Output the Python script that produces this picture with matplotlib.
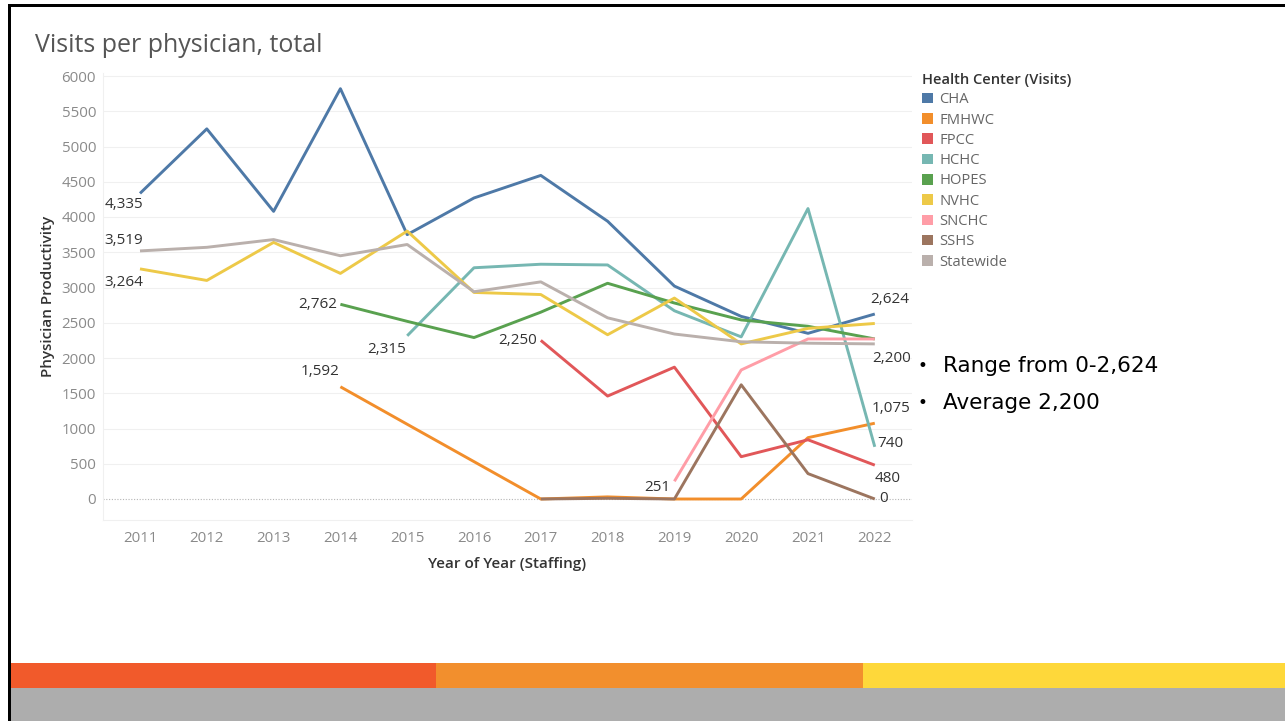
import matplotlib
matplotlib.use("Agg")
import matplotlib.pyplot as plt
from matplotlib.patches import Rectangle, Patch
import numpy as np

W, H = 1285, 721
years = list(range(2011, 2023))

centers = ["CHA", "FMHWC", "FPCC", "HCHC", "HOPES", "NVHC", "SNCHC", "SSHS", "Statewide"]
colors = ["#4e79a7", "#f28e2b", "#e15759", "#76b7b2", "#59a14f", "#edc948", "#ff9da7", "#9c755f", "#bab0ac"]

# values by year (None = no data)
cha = [4335, 5250, 4080, 5820, 3750, 4270, 4590, 3940, 3020, 2590, 2350, 2624]
fmhwc = [None, None, None, 1592, 1060, 530, 0, 30, 0, 0, 870, 1075]
fpcc = [None, None, None, None, None, None, 2250, 1460, 1870, 600, 840, 480]
hchc = [None, None, None, None, 2315, 3280, 3330, 3320, 2670, 2300, 4120, 740]
hopes = [None, None, None, 2762, 2520, 2290, 2650, 3060, 2780, 2540, 2450, 2270]
nvhc = [3264, 3100, 3640, 3200, 3800, 2930, 2900, 2330, 2850, 2200, 2420, 2490]
snchc = [None, None, None, None, None, None, None, None, 251, 1830, 2270, 2270]
sshs = [None, None, None, None, None, None, 0, 10, 0, 1620, 360, 0]
statewide = [3519, 3570, 3680, 3450, 3610, 2940, 3080, 2570, 2340, 2230, 2210, 2200]

series = [cha, fmhwc, fpcc, hchc, hopes, nvhc, snchc, sshs, statewide]

yticks = list(range(0, 6001, 500))
title = "Visits per physician, total"
xlabel = "Year of Year (Staffing)"
ylabel = "Physician Productivity"
legend_title = "Health Center (Visits)"
bullets = ["Range from 0-2,624", "Average 2,200"]

plt.rcParams['font.family'] = ['Open Sans', 'DejaVu Sans']

fig = plt.figure(figsize=(W / 100, H / 100), dpi=100)

def fx(px):
    return px / W

def fy(py):
    return 1 - py / H

# axes placement (pixels)
L, R, T, B = 103, 912, 73, 520
ax = fig.add_axes([fx(L), fy(B), fx(R) - fx(L), fy(T) - fy(B)])

# scale: 2011 at x=140, 66.8 px/year ; 0 at y=499, 6000 at y=76
pxyear = 66.8
ax.set_xlim(2011 - (140 - L) / pxyear, 2011 + (R - 140) / pxyear)
ppu = (499 - 76) / 6000.0
ax.set_ylim(-(B - 499) / ppu, 6000 + (76 - T) / ppu)

for name, col, vals in zip(centers, colors, series):
    xs = [y for y, v in zip(years, vals) if v is not None]
    vs = [v for v in vals if v is not None]
    ax.plot(xs, vs, color=col, lw=2.1, solid_capstyle='butt', zorder=3)

# gridlines
for t in yticks:
    if t == 0:
        ax.axhline(0, color="#b5b5b5", lw=0.8, ls=(0, (1, 1.5)), zorder=1)
    else:
        ax.axhline(t, color="#f0f0f0", lw=0.8, zorder=1)

ax.set_yticks(yticks)
ax.set_yticklabels([str(t) for t in yticks])
ax.set_xticks(years)
ax.set_xticklabels([str(y) for y in years])
ax.tick_params(axis='both', length=0, labelsize=10.8, colors="#8a8a8a")
ax.tick_params(axis='y', pad=5)
ax.tick_params(axis='x', pad=8)
for s in ax.spines.values():
    s.set_visible(False)
ax.spines['left'].set_visible(True)
ax.spines['left'].set_color("#f0f0f0")
ax.spines['bottom'].set_visible(True)
ax.spines['bottom'].set_color("#f0f0f0")

ax.set_xlabel(xlabel, fontsize=11, color="#333333", labelpad=8, fontweight='semibold')
ax.set_ylabel(ylabel, fontsize=11, color="#333333", fontweight='semibold')
ax.yaxis.set_label_coords((55 - L) / (R - L), 0.5)

# data labels
lab_kw = dict(fontsize=11, color="#333333", zorder=4)
def lab(x, y, txt, dx, dy, ha, va):
    ax.annotate(txt, (x, y), xytext=(dx, dy), textcoords='offset pixels', ha=ha, va=va, **lab_kw)

lab(2011, cha[0], "4,335", 3, -4, 'right', 'top')
lab(2011, statewide[0], "3,519", 3, 3, 'right', 'bottom')
lab(2011, nvhc[0], "3,264", 3, -6, 'right', 'top')
lab(2014, hopes[3], "2,762", -3, 0, 'right', 'center')
lab(2015, hchc[4], "2,315", -1, -6, 'right', 'top')
lab(2014, fmhwc[3], "1,592", -1, 8, 'right', 'bottom')
lab(2017, fpcc[6], "2,250", -4, 0, 'right', 'center')
lab(2019, snchc[8], "251", -4, -6, 'right', 'center')
lab(2022, cha[11], "2,624", -5, 7, 'left', 'bottom')
lab(2022, statewide[11], "2,200", -3, -7, 'left', 'top')
lab(2022, fmhwc[11], "1,075", -3, 7, 'left', 'bottom')
lab(2022, hchc[11], "740", 2, 3, 'left', 'center')
lab(2022, fpcc[11], "480", 0, -6, 'left', 'top')
lab(2022, sshs[11], "0", 4, 0, 'left', 'center')

# title
fig.text(fx(35), fy(46), title, fontsize=18, color="#555555", ha='left', va='center')

# legend
handles = [Patch(facecolor=c, edgecolor='none', label=n) for n, c in zip(centers, colors)]
leg = fig.legend(handles=handles, loc='upper left', bbox_to_anchor=(fx(919), fy(70)),
                 frameon=False, fontsize=10.6, title=legend_title,
                 title_fontproperties={'size': 10.5, 'weight': 'semibold'},
                 handlelength=0.72, handleheight=0.72, handletextpad=0.45,
                 labelspacing=0.36, borderaxespad=0, borderpad=0.2)
leg._legend_box.align = "left"
leg.get_title().set_color("#333333")
for t in leg.get_texts():
    t.set_color("#666666")

# bullets
for i, b in enumerate(bullets):
    yy = 366 + i * 37
    fig.text(fx(917), fy(yy), "\u2022", fontsize=12, color="#000000", ha='left', va='center', family='DejaVu Sans')
    fig.text(fx(943), fy(yy), b, fontsize=15.5, color="#000000", ha='left', va='center', family='DejaVu Sans')

# slide decorations
def rect(x0, y0, x1, y1, col):
    fig.patches.append(Rectangle((fx(x0), fy(y1)), fx(x1) - fx(x0), fy(y0) - fy(y1),
                                 transform=fig.transFigure, facecolor=col, edgecolor='none', zorder=0))

rect(11, 663, 436, 688, "#f15a2b")
rect(436, 663, 863, 688, "#f28f2d")
rect(863, 663, 1285, 688, "#fed83a")
rect(11, 688, 1285, 721, "#adadad")
rect(8, 4, 1285, 7, "#000000")
rect(8, 4, 11, 721, "#000000")

fig.savefig("out.png", dpi=100)
